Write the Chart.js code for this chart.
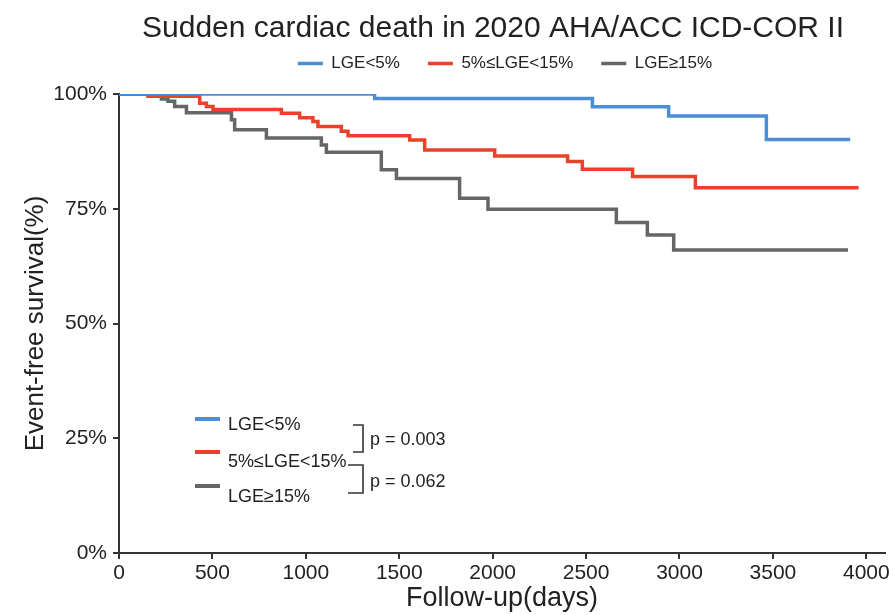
<!DOCTYPE html>
<html>
<head>
<meta charset="utf-8">
<script src="https://cdn.jsdelivr.net/npm/chart.js@4.4.1/dist/chart.umd.min.js"></script>
<style>
  html, body { margin: 0; padding: 0; background: #ffffff; }
  #wrap { width: 894px; height: 615px; }
</style>
</head>
<body>
<div id="wrap"><canvas id="km" width="894" height="615"></canvas></div>
<script>
// Kaplan-Meier estimates: follow-up day of each drop and survival (%) after it
const lowTimes  = [0, 1368, 2534, 2942, 3465, 3914];
const lowSurv   = [100, 99.0, 97.2, 95.2, 90.1, 90.1];

const midTimes  = [0, 155, 432, 468, 503, 869, 967, 1038, 1065, 1190, 1226, 1556, 1636, 2011, 2401, 2480, 2749, 3085, 3959];
const midSurv   = [100, 99.5, 98.0, 97.3, 96.6, 95.8, 94.8, 94.0, 92.9, 91.9, 90.9, 90.0, 87.8, 86.5, 85.3, 83.6, 82.0, 79.6, 79.6];

const highTimes = [0, 227, 262, 298, 361, 602, 619, 789, 1083, 1110, 1404, 1485, 1823, 1975, 2662, 2828, 2969, 3902];
const highSurv  = [100, 98.9, 98.4, 97.3, 95.9, 94.4, 92.2, 90.4, 88.9, 87.3, 83.5, 81.6, 77.3, 74.9, 72.0, 69.3, 66.0, 66.0];

const groupLabels = ['LGE<5%', '5%\u2264LGE<15%', 'LGE\u226515%'];
const pValues = ['p = 0.003', 'p = 0.062'];

const xTicks = [0, 500, 1000, 1500, 2000, 2500, 3000, 3500, 4000];
const yTicks = [0, 25, 50, 75, 100];

const FONT = "'Liberation Sans', Arial, Helvetica, sans-serif";
const INK = '#222222';
const AXIS = '#333333';
const colors = ['#4a8fd6', '#e8422b', '#666666'];

const series = [
  [lowTimes, lowSurv],
  [midTimes, midSurv],
  [highTimes, highSurv]
];

const datasets = series.map(([t, s], i) => ({
  label: groupLabels[i],
  data: t.map((x, k) => ({ x: x, y: s[k] })),
  borderColor: colors[i],
  backgroundColor: colors[i],
  borderWidth: 3.5,
  stepped: 'before',
  pointRadius: 0,
  fill: false,
  clip: 0
}));

// Title and legend placement above the plot
const placeHeader = {
  id: 'placeHeader',
  afterLayout(chart) {
    const a = chart.chartArea;
    const mid = (a.left + a.right) / 2;
    const move = (box, dx, dy) => {
      box.left += dx; box.right += dx; box.top += dy; box.bottom += dy;
    };
    const t = chart.titleBlock, l = chart.legend;
    move(t, mid - 9 - (t.left + t.right) / 2, 8);
    move(l, mid + 3 - (l.left + l.right) / 2, -12);
  }
};

// Group key with log-rank p-values in the lower left of the plot
const innerKey = {
  id: 'innerKey',
  afterDatasetsDraw(chart) {
    const { ctx, chartArea: a } = chart;
    const x0 = a.left + 76, x1 = x0 + 25, tx = x0 + 33;
    const lineY = [325, 358, 392];
    const textY = [331, 368, 403];
    ctx.save();
    ctx.lineCap = 'butt';
    lineY.forEach((dy, i) => {
      ctx.strokeStyle = colors[i];
      ctx.lineWidth = 4;
      ctx.beginPath();
      ctx.moveTo(x0, a.top + dy);
      ctx.lineTo(x1, a.top + dy);
      ctx.stroke();
    });
    ctx.fillStyle = INK;
    ctx.font = '18px ' + FONT;
    ctx.textAlign = 'left';
    ctx.textBaseline = 'middle';
    textY.forEach((dy, i) => ctx.fillText(groupLabels[i], tx, a.top + dy));

    // brackets joining compared groups
    ctx.strokeStyle = AXIS;
    ctx.lineWidth = 1.6;
    const bx = a.left + 244;
    const brackets = [[331, 358, 234], [371, 399, 229]];
    brackets.forEach(([y1, y2, left]) => {
      ctx.beginPath();
      ctx.moveTo(a.left + left, a.top + y1);
      ctx.lineTo(bx, a.top + y1);
      ctx.lineTo(bx, a.top + y2);
      ctx.lineTo(a.left + left, a.top + y2);
      ctx.stroke();
    });
    ctx.fillText(pValues[0], a.left + 251, a.top + 346);
    ctx.fillText(pValues[1], a.left + 251, a.top + 388);
    ctx.restore();
  }
};

new Chart(document.getElementById('km'), {
  type: 'line',
  data: { datasets: datasets },
  plugins: [placeHeader, innerKey],
  options: {
    responsive: false,
    animation: false,
    devicePixelRatio: 1,
    layout: { padding: { top: 0, right: 9, bottom: 0, left: 0 } },
    plugins: {
      title: {
        display: true,
        text: 'Sudden cardiac death in 2020 AHA/ACC ICD-COR II',
        color: INK,
        font: { family: FONT, size: 30, weight: 'normal' },
        padding: { top: 3, bottom: 0 }
      },
      legend: {
        display: true,
        position: 'top',
        labels: {
          color: INK,
          font: { family: FONT, size: 17 },
          usePointStyle: true,
          pointStyle: 'line',
          pointStyleWidth: 25,
          padding: 28
        }
      },
      tooltip: { enabled: false }
    },
    scales: {
      x: {
        type: 'linear',
        min: 0,
        max: 4100,
        afterBuildTicks: s => { s.ticks = xTicks.map(v => ({ value: v })); },
        afterFit: s => { s.height = 62; },
        ticks: {
          color: INK,
          font: { family: FONT, size: 21 },
          padding: 2,
          maxRotation: 0,
          callback: v => String(v)
        },
        grid: { display: true, drawOnChartArea: false, drawTicks: true, tickLength: 6, color: AXIS, lineWidth: 2 },
        border: { display: true, color: AXIS, width: 2 },
        title: {
          display: true,
          text: 'Follow-up(days)',
          color: INK,
          font: { family: FONT, size: 27 },
          padding: { top: 0, bottom: 0 }
        }
      },
      y: {
        type: 'linear',
        min: 0,
        max: 100,
        afterBuildTicks: s => { s.ticks = yTicks.map(v => ({ value: v })); },
        afterFit: s => { s.width = 119; },
        ticks: {
          color: INK,
          font: { family: FONT, size: 21 },
          padding: 6,
          callback: v => v + '%'
        },
        grid: { display: true, drawOnChartArea: false, drawTicks: true, tickLength: 6, color: AXIS, lineWidth: 2 },
        border: { display: true, color: AXIS, width: 2 },
        title: {
          display: true,
          text: 'Event-free survival(%)',
          color: INK,
          font: { family: FONT, size: 26 },
          padding: { top: 20, bottom: 0 }
        }
      }
    }
  }
});
</script>
</body>
</html>
